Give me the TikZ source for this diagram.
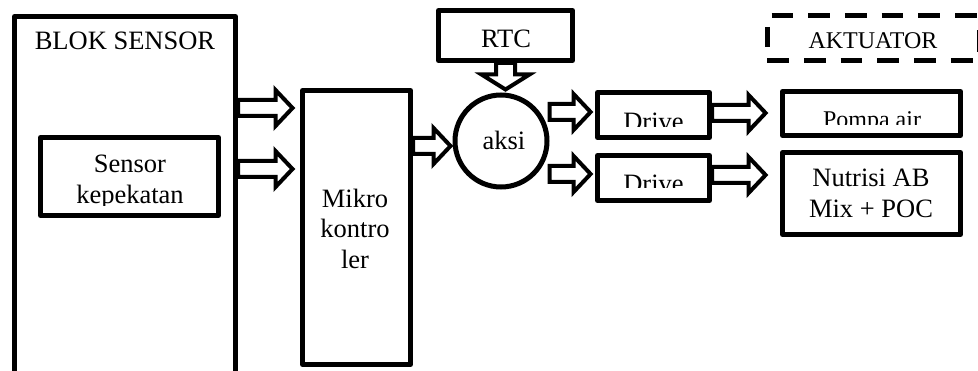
\documentclass[tikz,border=0pt]{standalone}
\usepackage{fontspec}
\setmainfont{Liberation Serif}
\usetikzlibrary{calc}

% arrow geometry (shaft half height, head half height, head length)
\def\ash{8pt}
\def\ahh{18pt}
\def\ahl{17pt}

\tikzset{
  box/.style={draw, line width=5pt, line join=round, rectangle, inner sep=0pt},
  txt/.style={font=\fontsize{26.5}{30.5}\selectfont, inner sep=0pt, align=center},
  stxt/.style={font=\fontsize{24}{28}\selectfont, inner sep=0pt, align=center},
  dashline/.style={line width=5pt, dash pattern=on 21.7pt off 15pt},
  % hollow block arrow pointing right, at the height of its start point
  rarrow/.style={draw, line width=4pt, line join=miter, fill=white,
    to path={let \p1=(\tikztostart), \p2=(\tikztotarget) in
      (\x1,\y1+\ash) -- (\x2-\ahl,\y1+\ash) -- (\x2-\ahl,\y1+\ahh) -- (\x2,\y1)
      -- (\x2-\ahl,\y1-\ahh) -- (\x2-\ahl,\y1-\ash) -- (\x1,\y1-\ash) -- cycle}},
  % hollow block arrow pointing down, at the x of its start point
  darrow/.style={draw, line width=4pt, line join=miter, fill=white,
    to path={let \p1=(\tikztostart), \p2=(\tikztotarget) in
      (\x1-9.5pt,\y1) -- (\x1-9.5pt,\y2+15pt) -- (\x1-24pt,\y2+15pt) -- (\x1,\y2)
      -- (\x1+24pt,\y2+15pt) -- (\x1+9.5pt,\y2+15pt) -- (\x1+9.5pt,\y1) -- cycle}}
}

\begin{document}
\begin{tikzpicture}[x=1pt,y=-1pt]
\clip (0,0) rectangle (978,371);

% heights of the connector rows
\coordinate (r1) at (0,108);
\coordinate (r2) at (0,169);
\coordinate (r3) at (0,146);
\coordinate (r4) at (0,112);
\coordinate (r5) at (0,174);
\coordinate (r6) at (0,113);
\coordinate (r7) at (0,175);

% sensor block
\node[box, minimum width=221pt, minimum height=384pt] (sens) at (125,208.5) {};
\node[txt, anchor=base] (sensT) at (125,50) {BLOK SENSOR};
\node[box, minimum width=178pt, minimum height=78pt] (kep) at (129.5,176.5) {};
\begin{scope}
  \clip (41,138) rectangle (218,206);
  \node[txt] (kepT) at (130,182) {Sensor\\kepekatan};
\end{scope}

% microcontroller
\node[box, minimum width=108pt, minimum height=274pt] (mk) at (356.5,227.5) {};
\node[txt] (mkT) at (355,228.5) {Mikro\\kontro\\ler};

% clock and action
\node[box, minimum width=134pt, minimum height=50pt] (rtc) at (505.5,35.5) {};
\node[txt, anchor=base] (rtcT) at (506,48) {RTC};
\node[draw, circle, line width=5pt, minimum size=92pt, inner sep=0pt] (aksi) at (501,141) {};
\node[txt, anchor=base] (aksiT) at (504,150) {aksi};

% drivers
\node[box, minimum width=112pt, minimum height=45pt] (drv1) at (653.5,115) {};
\node[box, minimum width=112pt, minimum height=45pt] (drv2) at (653.5,178) {};
\begin{scope}
  \clip (600,95) rectangle (707,127);
  \node[txt, anchor=base] (drv1T) at (653.5,131) {Drive};
\end{scope}
\begin{scope}
  \clip (600,158) rectangle (707,188);
  \node[txt, anchor=base] (drv2T) at (653.5,193) {Drive};
\end{scope}

% actuators
\node[draw=none, minimum width=212pt, minimum height=45pt, inner sep=0pt] (akt) at (873.5,38) {};
\node[stxt, anchor=base] (aktT) at (873,49) {AKTUATOR};
\draw[dashline, dash phase=32.5pt] (akt.north west) -- (akt.north east);
\draw[dashline, dash phase=0pt] (akt.south west) -- (akt.south east);
\draw[line width=5pt, dash pattern=on 20pt off 30pt, dash phase=38.5pt] (akt.north west) -- (akt.south west);
\draw[line width=5pt, dash pattern=on 22pt off 30pt, dash phase=37.5pt] (akt.north east) -- (akt.south east);

\node[box, minimum width=178pt, minimum height=44pt] (pompa) at (871.5,113.5) {};
\begin{scope}
  \clip (785,94) rectangle (958,125);
  \node[stxt, anchor=base] (pompaT) at (872,128) {Pompa air};
\end{scope}
\node[box, minimum width=178pt, minimum height=82pt] (nut) at (871.5,193.5) {};
\node[txt] (nutT) at (871,193.5) {Nutrisi AB\\Mix + POC};

% connectors
\draw[rarrow] (sens.east |- r1) to ([xshift=-7.5pt]mk.west |- r1);
\draw[rarrow] (sens.east |- r2) to ([xshift=-7.5pt]mk.west |- r2);
\draw[rarrow] (mk.east |- r3) to ([xshift=-2pt]aksi.west |- r3);
\draw[darrow] (rtc.south) to ([yshift=3pt]rtc.south |- aksi.north);
\draw[rarrow] (aksi.east |- r4) to ([xshift=-4.4pt]drv1.west |- r4);
\draw[rarrow] (aksi.east |- r5) to ([xshift=-4.4pt]drv2.west |- r5);
\draw[rarrow] (drv1.east |- r6) to ([xshift=-14.4pt]pompa.west |- r6);
\draw[rarrow] (drv2.east |- r7) to ([xshift=-14.4pt]nut.west |- r7);
\end{tikzpicture}
\end{document}
